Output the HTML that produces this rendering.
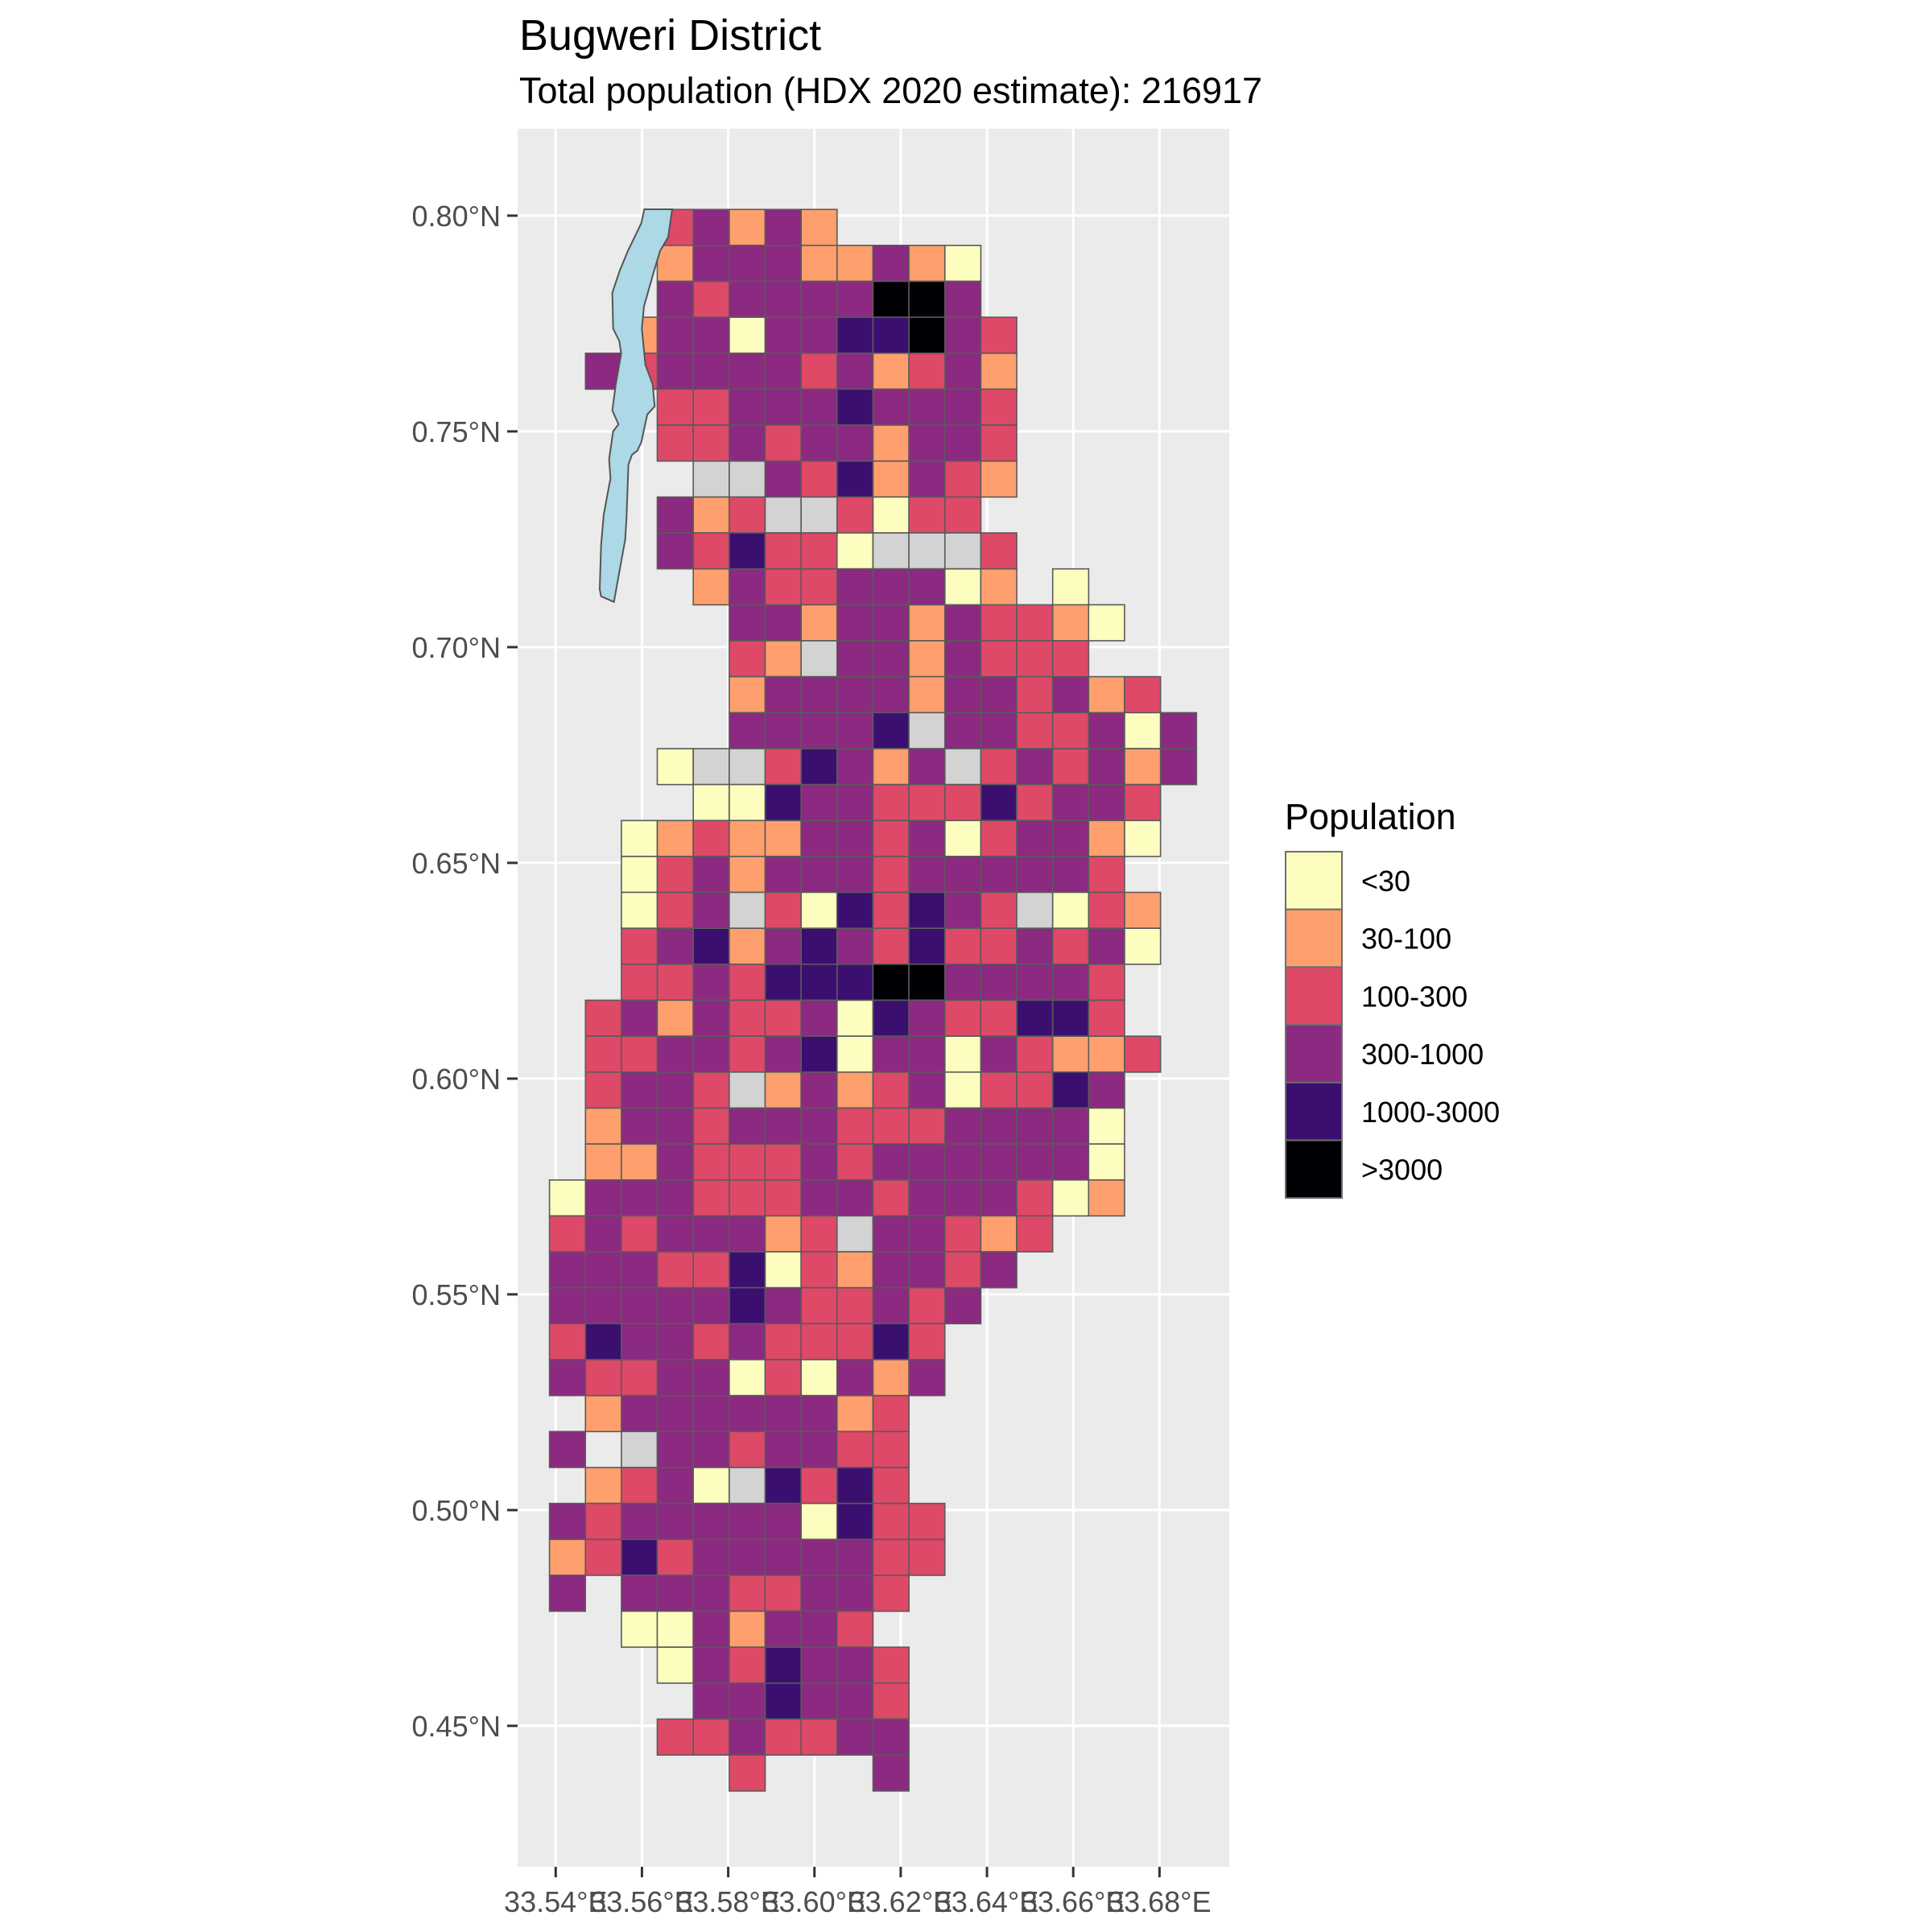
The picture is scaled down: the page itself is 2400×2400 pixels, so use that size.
<!DOCTYPE html>
<html><head><meta charset="utf-8"><style>html,body{margin:0;padding:0;background:#fff}svg{display:block}</style></head>
<body>
<svg id="s" xmlns="http://www.w3.org/2000/svg" width="2400" height="2400" viewBox="0 0 2400 2400" font-family="Liberation Sans, Arial, sans-serif">
<rect width="2400" height="2400" fill="#fff"/>
<text x="645" y="62" font-size="54" fill="#000">Bugweri District</text>
<text x="645" y="128" font-size="45" fill="#000">Total population (HDX 2020 estimate): 216917</text>
<rect x="643" y="160" width="884" height="2159" fill="#EBEBEB"/>
<g id="grid" stroke="#fff" stroke-width="3"></g>
<g id="cells" stroke="#5a5a5a" stroke-width="1.6"></g>
<g transform="translate(0,260) scale(1,1.034) translate(0,-260)">
<g transform="translate(620,230) scale(0.33333)">
<polygon fill="#ADD8E6" stroke="#555" stroke-width="6" points="541,90 645,90 630,190 600,240 575,320 540,440 532,520 545,650 572,720 580,800 552,830 530,930 515,960 495,975 482,1010 475,1200 470,1280 428,1505 380,1485 375,1460 380,1300 390,1190 415,1060 410,990 425,890 445,865 422,815 435,720 455,610 448,565 425,520 422,390 450,310 480,240 530,140"/>
</g></g>
<g id="ticks" stroke="#333" stroke-width="3"></g>
<g id="labels" font-size="36" fill="#4D4D4D"></g>
<text x="1596" y="1030" font-size="45" fill="#000">Population</text>
<g id="legend"></g>
</svg>
<script>
const NS="http://www.w3.org/2000/svg";
function el(t,a,p,txt){const e=document.createElementNS(NS,t);for(const k in a)e.setAttribute(k,a[k]);if(txt!==undefined)e.textContent=txt;p.appendChild(e);return e;}
const C={Y:"#FCFDBF",O:"#FE9F6D",R:"#DE4968",P:"#8C2981",D:"#3B0F70",K:"#000004",G:"#D3D3D3"};
const rows=[
"...RPOPO..........",
"...OPPPOOPOY......",
"...PRPPPPKKP......",
"..OPPYPPDDKPR.....",
".PRPPPPRPORPO.....",
"...RRPPPDPPPR.....",
"...RRPRPPOPPR.....",
"....GGPRDOPRO.....",
"...PORGGRYRR......",
"...PRDRRYGGGR.....",
"....OPRRPPPYO.Y...",
".....PPOPPOPRROY..",
".....ROGPPOPRRR...",
".....OPPPPOPPRPOR.",
".....PPPPDGPPRRPYP",
"...YGGRDPOPGRPRPOP",
"....YYDPPRRRDRPPR.",
"..YOROOPPRPYRPPOY.",
"..YRPOPPPRPPPPPR..",
"..YRPGRYDRDPRGYRO.",
"..RPDOPDPRDRRPRPY.",
"..RRPRDDDKKPPPPR..",
".RPOPRRPYDPRRDDR..",
".RRPPRPDYPPYPROOR.",
".RPPRGOPORPYRRDP..",
".OPPRPPPRRRPPPPY..",
".OOPRRRPRPPPPPPY..",
"YPPPRRRPPRPPPRYO..",
"RPRPPPORGPPROR....",
"PPPRRDYROPPRP.....",
"PPPPPDPRRPRP......",
"RDPPRPRRRDR.......",
"PRRPPYRYPOP.......",
".OPPPPPPOR........",
"P.GPPRPPRR........",
".ORPYGDRDR........",
"PRPPPPPYDRR.......",
"ORDRPPPPPRR.......",
"P.PPPRRPPR........",
"..YYPOPPR.........",
"...YPRDPPR........",
"....PPDPPR........",
"...RRPRRPP........",
".....R...P........"];
const x0=682.6,y0=260.2,cs=44.65;
const cells=document.getElementById("cells");
rows.forEach((r,i)=>{for(let j=0;j<r.length;j++){const ch=r[j];if(ch==='.')continue;
el("rect",{x:(x0+j*cs).toFixed(1),y:(y0+i*cs).toFixed(1),width:cs.toFixed(2),height:cs.toFixed(2),fill:C[ch]},cells);}});
const grid=document.getElementById("grid"),ticks=document.getElementById("ticks"),labels=document.getElementById("labels");
const xl=["33.54°E","33.56°E","33.58°E","33.60°E","33.62°E","33.64°E","33.66°E","33.68°E"];
for(let k=0;k<8;k++){const x=690.3+107.15*k;
el("line",{x1:x,y1:160,x2:x,y2:2319},grid);
el("line",{x1:x,y1:2319,x2:x,y2:2332},ticks);
el("text",{x:x,y:2375,"text-anchor":"middle"},labels,xl[k]);}
const yl=["0.80°N","0.75°N","0.70°N","0.65°N","0.60°N","0.55°N","0.50°N","0.45°N"];
for(let k=0;k<8;k++){const y=267.9+268*k;
el("line",{x1:643,y1:y,x2:1527,y2:y},grid);
el("line",{x1:630,y1:y,x2:643,y2:y},ticks);
el("text",{x:622,y:y+13,"text-anchor":"end"},labels,yl[k]);}
const lg=document.getElementById("legend");
const ll=[["<30","Y"],["30-100","O"],["100-300","R"],["300-1000","P"],["1000-3000","D"],[">3000","K"]];
ll.forEach((d,i)=>{const y=1058+71.7*i;
el("rect",{x:1597,y:y,width:70,height:71.7,fill:C[d[1]],stroke:"#6e6e6e","stroke-width":2},lg);
el("text",{x:1691,y:y+49,"font-size":36,fill:"#000"},lg,d[0]);});
</script>
</body></html>
